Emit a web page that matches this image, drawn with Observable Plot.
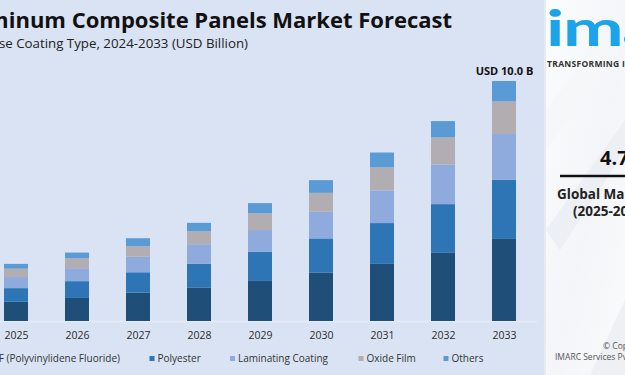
<!DOCTYPE html>
<html><head><meta charset="utf-8">
<script src="https://cdn.jsdelivr.net/npm/d3@7"></script>
<script src="https://cdn.jsdelivr.net/npm/@observablehq/plot@0.6"></script>
<style>
html,body{margin:0;padding:0;background:#dae3f3;}
#wrap{position:relative;width:625px;height:375px;overflow:hidden;background:#dae3f3;font-family:"Open Sans",sans-serif;}
#wrap svg{position:absolute;left:0;top:0;}
</style></head><body><div id="wrap"></div>
<script>
// ---- data ----
const years = [2025, 2026, 2027, 2028, 2029, 2030, 2031, 2032, 2033];
const seriesNames = ["PVDF (Polyvinylidene Fluoride)", "Polyester", "Laminating Coating", "Oxide Film", "Others"];
const pvdf       = [0.80, 0.96, 1.18, 1.40, 1.67, 2.01, 2.38, 2.86, 3.42];
const polyester  = [0.57, 0.70, 0.85, 0.98, 1.22, 1.43, 1.70, 2.01, 2.47];
const laminating = [0.46, 0.54, 0.65, 0.82, 0.90, 1.11, 1.36, 1.65, 1.90];
const oxideFilm  = [0.35, 0.41, 0.43, 0.54, 0.70, 0.79, 0.96, 1.13, 1.36];
const others     = [0.20, 0.24, 0.34, 0.35, 0.42, 0.53, 0.62, 0.68, 0.85];
const seriesColors = ["#1f4e79", "#2e75b6", "#8faadc", "#b1adb1", "#5b9bd5"];
const titleText = "Aluminum Composite Panels Market Forecast";
const subtitleText = "Breakup by Base Coating Type, 2024-2033 (USD Billion)";
const totalLabel = "USD 10.0 B";
const cagrText = "4.72%";

const seriesValues = [pvdf, polyester, laminating, oxideFilm, others];
const table = seriesNames.flatMap((s, i) => years.map((y, j) => ({year: y, series: s, value: seriesValues[i][j]})));
const lastYear = years[years.length - 1];
const lastTotal = d3.sum(seriesValues, v => v[v.length - 1]);

const W = 625, H = 375;
const chart = Plot.plot({
  width: W, height: H,
  marginLeft: 0, marginRight: 88, marginTop: 0, marginBottom: 54,
  style: {background: "transparent", fontFamily: "'Open Sans', sans-serif"},
  x: {type: "band", domain: years, range: [-35.2, 554.8], padding: 0.6, label: null},
  y: {domain: [0, 10], range: [321, 81], axis: null},
  color: {domain: seriesNames, range: seriesColors},
  marks: [
    Plot.ruleY([0], {stroke: "#e6ecf6", strokeWidth: 1.5}),
    Plot.barY(table, Plot.stackY({x: "year", y: "value", z: "series", fill: "series", order: null})),
    Plot.axisX({tickSize: 0, tickPadding: 10, fontSize: 10.5, fill: "#2b2b2b", label: null, tickFormat: d => String(d)}),
    Plot.text([{year: lastYear, total: lastTotal, label: totalLabel}],
      {x: "year", y: "total", text: "label", dy: -7, lineAnchor: "bottom", fontWeight: "bold", fontSize: 11, fill: "#111"})
  ]
});
const wrap = document.getElementById("wrap");
wrap.appendChild(chart);

// ---- overlay: title, legend, side panel ----
const svg = d3.select(wrap).append("svg").attr("width", W).attr("height", H).style("pointer-events", "none");
const defs = svg.append("defs");
const g1 = defs.append("linearGradient").attr("id", "pg").attr("x1", 0).attr("y1", 0).attr("x2", 1).attr("y2", 1);
g1.append("stop").attr("offset", "0%").attr("stop-color", "#fbfcfd");
g1.append("stop").attr("offset", "55%").attr("stop-color", "#f3f5f8");
g1.append("stop").attr("offset", "100%").attr("stop-color", "#fafbfc");

svg.append("text").attr("x", 452).attr("y", 28).attr("text-anchor", "end")
  .attr("font-family", "'Open Sans', sans-serif").attr("font-weight", 700).attr("font-size", 22).attr("fill", "#111")
  .text(titleText);
svg.append("text").attr("x", 248).attr("y", 48).attr("text-anchor", "end")
  .attr("font-family", "'Open Sans', sans-serif").attr("font-size", 13.3).attr("fill", "#222")
  .text(subtitleText);

// legend
const legendSwatchX = [null, 149.5, 230, 358.5, 443.5];
const lg = svg.append("g").attr("font-family", "'Open Sans', sans-serif").attr("font-size", 10).attr("fill", "#333");
seriesNames.forEach((s, i) => {
  if (i === 0) {
    const t = lg.append("text").attr("x", 120).attr("y", 362).attr("text-anchor", "end").text(s);
    const len = t.node().getComputedTextLength();
    lg.append("rect").attr("x", 120 - len - 9).attr("y", 356).attr("width", 5).attr("height", 5).attr("fill", seriesColors[i]);
  } else {
    lg.append("rect").attr("x", legendSwatchX[i]).attr("y", 356).attr("width", 5).attr("height", 5).attr("fill", seriesColors[i]);
    lg.append("text").attr("x", legendSwatchX[i] + 8).attr("y", 362).text(s);
  }
});

// side panel
svg.append("rect").attr("x", 544).attr("y", 0).attr("width", 3).attr("height", H).attr("fill", "#e6eaf1");
svg.append("rect").attr("x", 546).attr("y", 0).attr("width", 79).attr("height", H).attr("fill", "url(#pg)");
svg.append("path").attr("d", "M546,230 L625,120 L625,150 L560,250 Z").attr("fill", "#eceff3");
svg.append("path").attr("d", "M590,375 L625,300 L625,375 Z").attr("fill", "#eef0f3");
svg.append("path").attr("d", "M546,110 L600,40 L625,40 L546,150 Z").attr("fill", "#f6f7f9");
svg.append("text").attr("x", 0).attr("y", 0).attr("transform", "translate(546,46) scale(1.45,1)")
  .attr("font-family", "Lato, sans-serif").attr("font-weight", 700)
  .attr("font-size", 50).attr("letter-spacing", -1).attr("fill", "#1ca3ea").text("imarc");
svg.append("text").attr("x", 547).attr("y", 67).attr("font-family", "'Open Sans', sans-serif").attr("font-weight", 700)
  .attr("font-size", 8.5).attr("letter-spacing", 0.3).attr("fill", "#333").text("TRANSFORMING IDEAS INTO IMPACT");
svg.append("text").attr("x", 600).attr("y", 165).attr("font-family", "'Open Sans', sans-serif").attr("font-weight", 700)
  .attr("font-size", 20).attr("fill", "#111").text(cagrText);
svg.append("line").attr("x1", 560).attr("x2", 625).attr("y1", 176).attr("y2", 176).attr("stroke", "#111").attr("stroke-width", 2.5);
svg.append("text").attr("x", 557).attr("y", 199).attr("font-family", "'Open Sans', sans-serif").attr("font-weight", 700)
  .attr("font-size", 13.5).attr("fill", "#222").text("Global Market CAGR");
svg.append("text").attr("x", 573).attr("y", 216).attr("font-family", "'Open Sans', sans-serif").attr("font-weight", 700)
  .attr("font-size", 13.5).attr("fill", "#222").text("(2025-2033)");
svg.append("text").attr("x", 603).attr("y", 348.5).attr("font-family", "'Open Sans', sans-serif")
  .attr("font-size", 8.5).attr("fill", "#555").text("© Copyright");
svg.append("text").attr("x", 555).attr("y", 360).attr("font-family", "'Open Sans', sans-serif")
  .attr("font-size", 8.5).attr("fill", "#555").text("IMARC Services Pvt. Ltd.");
</script></body></html>
